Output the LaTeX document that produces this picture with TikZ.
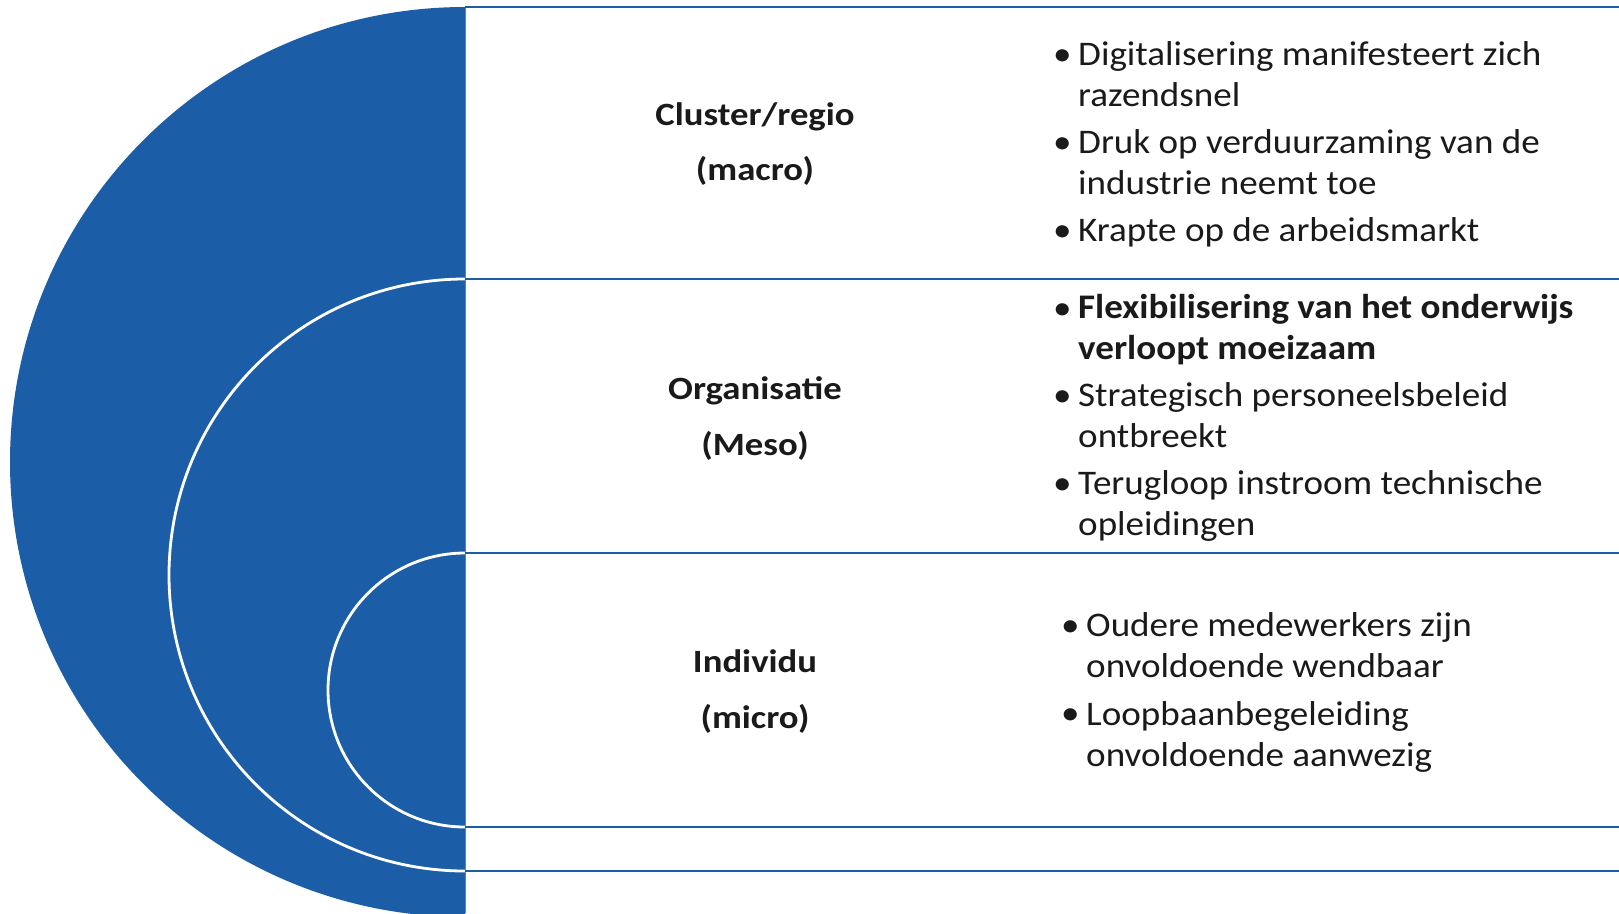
\documentclass[tikz,border=0pt]{standalone}
\usepackage{fontspec}
\setmainfont{Carlito}
\newfontfamily\itemfont[FakeStretch=1.075]{Carlito}
\newfontfamily\lblfont[FakeStretch=1.13]{Carlito}
\definecolor{dblue}{RGB}{27,93,167}
\definecolor{txt}{RGB}{26,26,26}
\begin{document}
\begin{tikzpicture}[x=1pt,y=-1pt,
  sep/.style={draw=dblue, line width=2.4pt},
  edge/.style={draw=dblue!75, line width=1.6pt},
  wline/.style={draw=white, line width=2.8pt},
  lbl/.style={font=\lblfont\fontsize{32.5}{55.5}\selectfont\bfseries, text=txt, align=center, inner sep=0pt, anchor=base},
  itemtxt/.style={font=\itemfont\fontsize{34.5}{40.8}\selectfont, text=txt, align=left, anchor=base west, inner sep=0pt},
  bul/.style={font=\itemfont\fontsize{34.5}{40.8}\selectfont, text=txt, anchor=base west, inner sep=0pt}]
\useasboundingbox (0,0) rectangle (1619,913);
\fill[white] (0,0) rectangle (1619,913);
\begin{scope}
  \clip (0,0) rectangle (1619,913);
  \fill[dblue] (465,7) arc[start angle=90,end angle=270,radius=455pt] -- cycle;
\end{scope}
\draw[wline] (465,279) arc[start angle=90,end angle=270,radius=296pt];
\draw[wline] (465,553) arc[start angle=90,end angle=270,radius=137pt];
\draw[edge] (465.5,7) -- (465.5,913);
\foreach \yy in {7,279,553,827,871} \draw[sep] (465,\yy) -- (1619,\yy);

% labels (anchored at the baseline of the last line)
\node[lbl] (lmacro) at (755,180.5) {Cluster/regio\\(macro)};
\node[lbl] (lmeso) at (755,455) {Organisatie\\(Meso)};
\node[lbl] (lmicro) at (755,728) {Individu\\(micro)};

% panel 1 (anchored at the baseline of the last line)
\node[bul] (b11) at (1053,65) {•};
\node[itemtxt] (t11) at (1078,106) {Digitalisering manifesteert zich\\razendsnel};
\node[bul] (b12) at (1053,153.8) {•};
\node[itemtxt] (t12) at (1078,194.5) {Druk op verduurzaming van de\\industrie neemt toe};
\node[bul] (b13) at (1053,241.3) {•};
\node[itemtxt] (t13) at (1078,241.3) {Krapte op de arbeidsmarkt};

% panel 2
\node[bul] (b21) at (1053,319) {•};
\node[itemtxt, font=\itemfont\fontsize{34.5}{40.8}\selectfont\bfseries] (t21) at (1078,359.5) {Flexibilisering van het onderwijs\\verloopt moeizaam};
\node[bul] (b22) at (1053,406.7) {•};
\node[itemtxt] (t22) at (1078,447.5) {Strategisch personeelsbeleid\\ontbreekt};
\node[bul] (b23) at (1053,494.5) {•};
\node[itemtxt] (t23) at (1078,535.5) {Terugloop instroom technische\\opleidingen};

% panel 3
\node[bul] (b31) at (1061,636) {•};
\node[itemtxt] (t31) at (1086,677) {Oudere medewerkers zijn\\onvoldoende wendbaar};
\node[bul] (b32) at (1061,724.7) {•};
\node[itemtxt] (t32) at (1086,766) {Loopbaanbegeleiding\\onvoldoende aanwezig};
\end{tikzpicture}
\end{document}
